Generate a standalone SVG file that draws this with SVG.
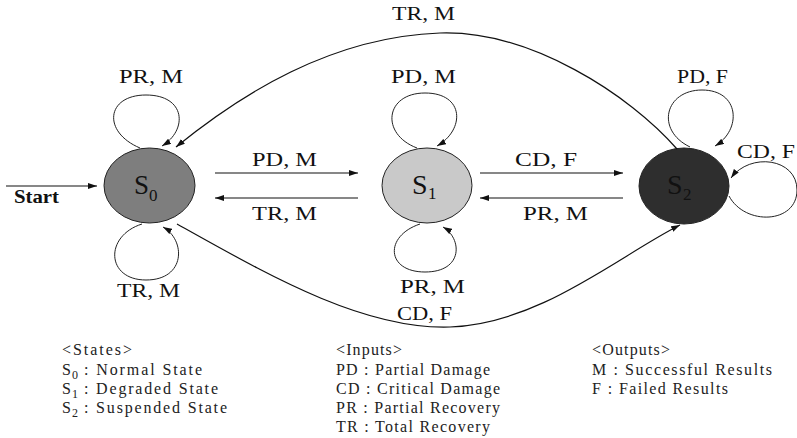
<svg xmlns="http://www.w3.org/2000/svg" width="797" height="438" viewBox="0 0 797 438">
  <style>
    .state { stroke: #222; stroke-width: 1; }
    .edge { fill: none; stroke: #111; stroke-width: 1.2; }
    .loop { fill: none; stroke: #222; stroke-width: 1; }
    .lbl { font-family: "Liberation Serif", "Times New Roman", serif; font-size: 19px; fill: #111; }
    .name { font-family: "Liberation Serif", "Times New Roman", serif; fill: #111; }
    .leg { font-family: "Liberation Serif", "Times New Roman", serif; font-size: 16px; fill: #222; }
    .sub { font-family: "Liberation Serif", "Times New Roman", serif; font-size: 12px; fill: #222; }
  </style>
  <defs>
    <marker id="arrow" markerUnits="userSpaceOnUse" markerWidth="9" markerHeight="6" refX="9" refY="3" orient="auto">
      <path d="M0,0 L9,3 L0,6 z" fill="#111"/>
    </marker>
  </defs>
  <rect width="797" height="438" fill="#fff"/>

  <!-- states -->
  <g id="s0">
    <ellipse class="state" cx="149.5" cy="185.5" rx="45.5" ry="37.5" fill="#7e7e7e"/>
    <text class="name" x="134" y="194" font-size="27">S</text>
    <text class="name" x="149" y="201" font-size="17">0</text>
  </g>
  <g id="s1">
    <ellipse class="state" cx="427" cy="185.5" rx="45" ry="37.5" fill="#c9c9c9"/>
    <text class="name" x="412" y="194" font-size="28">S</text>
    <text class="name" x="428" y="199" font-size="17">1</text>
  </g>
  <g id="s2">
    <ellipse class="state" cx="684" cy="186" rx="45" ry="38" fill="#2e2e2e"/>
    <text class="name" x="667" y="194" font-size="28">S</text>
    <text class="name" x="683" y="200" font-size="17">2</text>
  </g>

  <!-- transitions -->
  <g id="connectors">
    <path class="edge" d="M6,186 L97,186" marker-end="url(#arrow)"/>
    <path class="edge" d="M215,173 L358,173" marker-end="url(#arrow)"/>
    <path class="edge" d="M358,198 L215,198" marker-end="url(#arrow)"/>
    <path class="edge" d="M480,173 L623,173" marker-end="url(#arrow)"/>
    <path class="edge" d="M623,198 L480,198" marker-end="url(#arrow)"/>
    <path class="edge" d="M677,149 C630,95 530,30 440,33 C330,37 240,95 176,147" marker-end="url(#arrow)"/>
    <path class="edge" d="M177,224 C260,270 360,330 450,327 C540,324 620,255 680,225" marker-end="url(#arrow)"/>

    <!-- self loops -->
    <path class="loop" d="M140,148 C102,132 106,95 146,95 C186,95 188,130 162,146" marker-end="url(#arrow)"/>
    <path class="loop" d="M142,224 C104,236 106,280 146,280 C186,280 186,240 163,227" marker-end="url(#arrow)"/>
    <path class="loop" d="M417,148 C380,134 385,93 425,93 C465,93 465,130 437,146" marker-end="url(#arrow)"/>
    <path class="loop" d="M420,224 C384,236 386,272 425,272 C464,272 462,238 443,227" marker-end="url(#arrow)"/>
    <path class="loop" d="M690,147 C655,130 665,90 702,90 C740,90 742,130 715,146" marker-end="url(#arrow)"/>
    <path class="loop" d="M729,196 C745,226 797,224 797,190 C797,158 750,152 731,178" marker-end="url(#arrow)"/>

    <!-- labels -->
    <text class="lbl" x="392" y="20" textLength="63" lengthAdjust="spacingAndGlyphs">TR, M</text>
    <text class="lbl" x="119" y="83" textLength="64" lengthAdjust="spacingAndGlyphs">PR, M</text>
    <text class="lbl" x="391" y="83" textLength="65" lengthAdjust="spacingAndGlyphs">PD, M</text>
    <text class="lbl" x="677" y="83" textLength="51" lengthAdjust="spacingAndGlyphs">PD, F</text>
    <text class="lbl" x="737" y="158" textLength="58" lengthAdjust="spacingAndGlyphs">CD, F</text>
    <text class="lbl" x="252" y="166" textLength="65" lengthAdjust="spacingAndGlyphs">PD, M</text>
    <text class="lbl" x="252" y="220" textLength="65" lengthAdjust="spacingAndGlyphs">TR, M</text>
    <text class="lbl" x="515" y="166" textLength="62" lengthAdjust="spacingAndGlyphs">CD, F</text>
    <text class="lbl" x="523" y="220" textLength="65" lengthAdjust="spacingAndGlyphs">PR, M</text>
    <text class="lbl" x="117" y="297" textLength="63" lengthAdjust="spacingAndGlyphs">TR, M</text>
    <text class="lbl" x="400" y="293" textLength="65" lengthAdjust="spacingAndGlyphs">PR, M</text>
    <text class="lbl" x="397" y="320" textLength="55" lengthAdjust="spacingAndGlyphs">CD, F</text>
    <text class="lbl" x="14" y="203" font-weight="bold" textLength="45" lengthAdjust="spacingAndGlyphs">Start</text>
  </g>

  <!-- legend -->
  <g id="legend">
    <text class="leg" x="62" y="355" textLength="70">&lt;States&gt;</text>
    <text class="leg" x="62" y="375">S</text><text class="sub" x="72" y="379">0</text>
    <text class="leg" x="84" y="375" textLength="118">: Normal State</text>
    <text class="leg" x="62" y="394">S</text><text class="sub" x="72" y="398">1</text>
    <text class="leg" x="84" y="394" textLength="134">: Degraded State</text>
    <text class="leg" x="62" y="413">S</text><text class="sub" x="72" y="417">2</text>
    <text class="leg" x="84" y="413" textLength="143">: Suspended State</text>

    <text class="leg" x="336" y="355" textLength="66">&lt;Inputs&gt;</text>
    <text class="leg" x="336" y="375" textLength="154">PD : Partial Damage</text>
    <text class="leg" x="336" y="394" textLength="164">CD : Critical Damage</text>
    <text class="leg" x="336" y="413" textLength="164">PR : Partial Recovery</text>
    <text class="leg" x="336" y="432" textLength="154">TR : Total Recovery</text>

    <text class="leg" x="592" y="355" textLength="78">&lt;Outputs&gt;</text>
    <text class="leg" x="592" y="375" textLength="180">M : Successful Results</text>
    <text class="leg" x="592" y="394" textLength="136">F : Failed Results</text>
  </g>
</svg>
